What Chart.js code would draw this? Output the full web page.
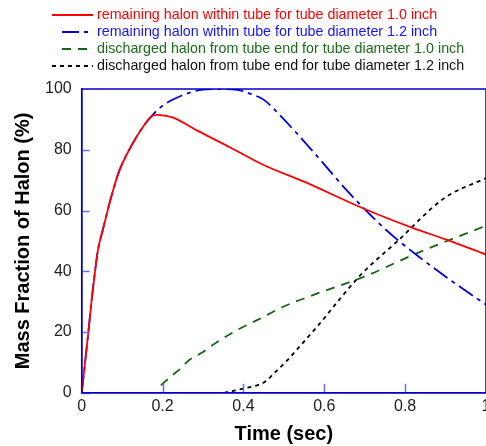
<!DOCTYPE html>
<html>
<head>
<meta charset="utf-8">
<script src="https://cdn.jsdelivr.net/npm/chart.js@4"></script>
<style>
  html, body { margin: 0; padding: 0; background: #fff; }
  #wrap { width: 486px; height: 446px; }
</style>
</head>
<body>
<div id="wrap"><canvas id="chart"></canvas></div>
<script>
// Datos
const legendNames = [
  "remaining halon within tube for tube diameter 1.0 inch",
  "remaining halon within tube for tube diameter 1.2 inch",
  "discharged halon from tube end for tube diameter 1.0 inch",
  "discharged halon from tube end for tube diameter 1.2 inch"
];

const redT = [0, 0.004, 0.0165, 0.025, 0.033, 0.041, 0.052, 0.07, 0.091, 0.12, 0.153, 0.173, 0.186, 0.205, 0.228, 0.286, 0.37, 0.45, 0.55, 0.7, 0.82, 0.9, 1.0];
const redY = [0, 4.7, 20, 31, 40, 47.6, 53.5, 63, 72.4, 80.6, 87.8, 91, 91.5, 91.2, 90.5, 86.3, 80.6, 75, 69.5, 60.5, 54.2, 50.5, 45.5];

const blueT = [0, 0.004, 0.0165, 0.025, 0.033, 0.041, 0.052, 0.07, 0.091, 0.12, 0.153, 0.173, 0.2, 0.245, 0.3, 0.34, 0.385, 0.426, 0.45, 0.49, 0.575, 0.658, 0.748, 0.83, 0.913, 1.0];
const blueY = [0, 4.7, 20, 31, 40, 47.6, 53.5, 63, 72.4, 80.6, 87.8, 91.1, 94.5, 97.7, 99.8, 100, 99.7, 98, 96.5, 91.4, 79, 66.3, 54.2, 45.2, 37, 29];

const greenT = [0.196, 0.22, 0.245, 0.266, 0.295, 0.336, 0.385, 0.435, 0.5, 0.575, 0.7, 0.83, 1.0];
const greenY = [2.5, 5.3, 8, 10.8, 13, 16.8, 20.7, 24, 28.4, 32.3, 38.3, 46, 55];

const blackT = [0.352, 0.4, 0.435, 0.455, 0.48, 0.505, 0.546, 0.587, 0.625, 0.69, 0.78, 0.896, 1.0];
const blackY = [0, 1.4, 2.5, 3.8, 7, 10.2, 16.3, 22.5, 28.7, 38.8, 49.8, 64, 70.7];

const xTicks = [0, 0.2, 0.4, 0.6, 0.8, 1];
const yTicks = [0, 20, 40, 60, 80, 100];

const FONT = "'Liberation Sans', Arial, sans-serif";
const AXIS_BLUE = "#0000c8";
const TICK_BLUE = "#6a6aff";

const toXY = (t, y) => t.map((v, i) => ({ x: v, y: y[i] }));

const series = [
  { data: toXY(redT, redY), color: "#ff0000", text: "#ff0000", dash: [] },
  { data: toXY(blueT, blueY), color: "#0000e6", text: "#1414ff", dash: [17, 5, 4, 5] },
  { data: toXY(greenT, greenY), color: "#146614", text: "#1a6e1a", dash: [9, 7] },
  { data: toXY(blackT, blackY), color: "#000000", text: "#111111", dash: [4, 4] }
];

// Leyenda propia (líneas a la izquierda, texto coloreado)
const legendPlugin = {
  id: "customLegend",
  afterDraw(chart) {
    const ctx = chart.ctx;
    ctx.save();
    ctx.font = "14.3px " + FONT;
    ctx.textBaseline = "middle";
    const rows = [15, 32, 49, 66];
    const lineStart = [52, 62, 62, 52];
    series.forEach((s, i) => {
      const y = rows[i];
      ctx.strokeStyle = s.color;
      ctx.lineWidth = 2;
      ctx.setLineDash(s.dash);
      ctx.beginPath();
      ctx.moveTo(lineStart[i], y);
      ctx.lineTo(93, y);
      ctx.stroke();
      ctx.setLineDash([]);
      ctx.fillStyle = s.text;
      ctx.fillText(legendNames[i], 97, y);
    });
    ctx.restore();
  }
};

// Marco azul y marcas hacia dentro
const framePlugin = {
  id: "frame",
  afterDatasetsDraw(chart) {
    const { ctx, chartArea: a, scales } = chart;
    ctx.save();
    ctx.strokeStyle = TICK_BLUE;
    ctx.lineWidth = 1.5;
    yTicks.slice(0, -1).forEach(v => {
      const y = Math.round(scales.y.getPixelForValue(v)) + 0.5;
      ctx.beginPath();
      ctx.moveTo(a.left, y);
      ctx.lineTo(a.left + 8, y);
      ctx.stroke();
    });
    xTicks.slice(1, -1).forEach(v => {
      const x = Math.round(scales.x.getPixelForValue(v)) + 0.5;
      ctx.beginPath();
      ctx.moveTo(x, a.bottom);
      ctx.lineTo(x, a.bottom - 9);
      ctx.stroke();
    });
    ctx.strokeStyle = AXIS_BLUE;
    ctx.lineWidth = 1.5;
    ctx.strokeRect(a.left, a.top, a.right - a.left, a.bottom - a.top);
    ctx.restore();
  }
};

new Chart(document.getElementById("chart"), {
  type: "line",
  data: {
    datasets: series.map((s, i) => ({
      label: legendNames[i],
      data: s.data,
      borderColor: s.color,
      backgroundColor: s.color,
      borderDash: s.dash,
      borderWidth: 1.8,
      pointRadius: 0,
      fill: false,
      cubicInterpolationMode: "monotone"
    }))
  },
  options: {
    responsive: true,
    maintainAspectRatio: false,
    animation: false,
    layout: { padding: { top: 89, left: 11, right: 0, bottom: 0 } },
    plugins: {
      legend: { display: false },
      tooltip: { enabled: false }
    },
    scales: {
      x: {
        type: "linear",
        min: 0,
        max: 1,
        afterBuildTicks: (scale) => { scale.ticks = xTicks.map(v => ({ value: v })); },
        afterFit: (scale) => { scale.paddingRight = 0; },
        ticks: {
          color: "#222",
          font: { family: FONT, size: 16 },
          padding: 4,
          maxRotation: 0,
          callback: (v) => String(v)
        },
        grid: { display: false, drawTicks: false },
        border: { color: AXIS_BLUE, width: 1.5 },
        title: {
          display: true,
          text: "Time (sec)",
          color: "#000",
          font: { family: FONT, size: 20, weight: "bold" },
          padding: { top: 2, bottom: 0 }
        }
      },
      y: {
        min: 0,
        max: 100,
        afterBuildTicks: (scale) => { scale.ticks = yTicks.map(v => ({ value: v })); },
        ticks: {
          color: "#222",
          font: { family: FONT, size: 16 },
          padding: 10
        },
        grid: { display: false, drawTicks: false },
        border: { color: AXIS_BLUE, width: 1.5 },
        title: {
          display: true,
          text: "Mass Fraction of Halon (%)",
          color: "#000",
          font: { family: FONT, size: 20, weight: "bold" },
          padding: { top: 0, bottom: 0 }
        }
      }
    }
  },
  plugins: [legendPlugin, framePlugin]
});
</script>
</body>
</html>
